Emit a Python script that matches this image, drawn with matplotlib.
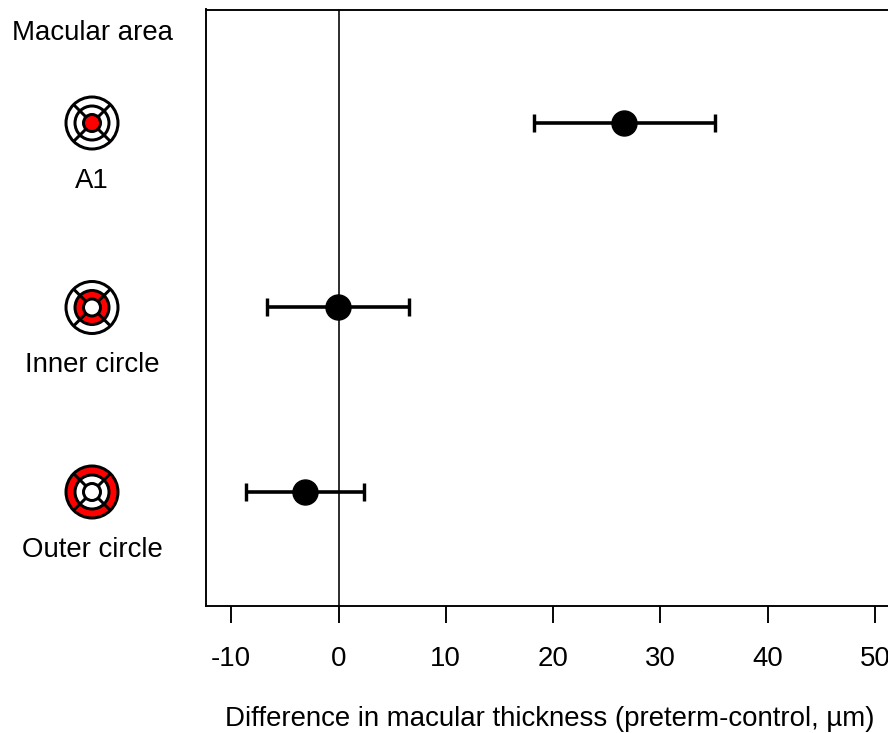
"""Forest plot of macular thickness difference with small macular area icons."""

import matplotlib
matplotlib.use("Agg")
import matplotlib.pyplot as plt
import numpy as np
from matplotlib.patches import Circle, Wedge

plt.rcParams["font.family"] = ["Liberation Sans", "DejaVu Sans"]
plt.rcParams["axes.unicode_minus"] = False

# Data
areas = ["A1", "Inner circle", "Outer circle"]
rows = [3, 2, 1]
means = [26.65, -0.05, -3.15]
lower = [18.2, -6.65, -8.6]
upper = [35.05, 6.6, 2.35]
red_ring = ["centre", "inner", "outer"]
xticks = [-10, 0, 10, 20, 30, 40, 50]

W, H = 888, 733
DPI = 100
PX = 72 / DPI  # points per pixel
FONT = 27.6 * PX

fig = plt.figure(figsize=(W / DPI, H / DPI), dpi=DPI)

# Axes runs past the right edge of the picture, as in the cropped original
left, right, top, bottom = 205.5, 905, 9.5, 606
ax = fig.add_axes([left / W, 1 - bottom / H, (right - left) / W, (bottom - top) / H])
ax.set_xlim((left - 338.5) / 10.73, (right - 338.5) / 10.73)
ax.set_ylim(1 - (bottom - 492) / 184.5, 3 + (123 - top) / 184.5)

ax.axvline(0, color="black", lw=1.6 * PX, zorder=1)

for y, m, lo, hi in zip(rows, means, lower, upper):
    ax.errorbar(m, y, xerr=[[m - lo], [hi - m]], fmt="o", color="black",
                ms=25 * PX, elinewidth=3.6 * PX, capsize=9 * PX,
                capthick=3.4 * PX, zorder=3)

for side in ax.spines.values():
    side.set_linewidth(1.9 * PX)

ax.set_xticks(xticks)
ax.set_yticks([])
ax.tick_params(axis="x", length=17 * PX, width=1.9 * PX, pad=23 * PX,
               labelsize=FONT)
ax.set_xlabel("Difference in macular thickness (preterm-control, µm)",
              fontsize=FONT)
ax.xaxis.set_label_coords((550 - left) / (right - left),
                          1 - (719 - top) / (bottom - top), transform=ax.transAxes)
ax.xaxis.label.set_verticalalignment("center")

# Overlay in pixel coordinates for the icons and row labels
ov = fig.add_axes([0, 0, 1, 1])
ov.set_xlim(0, W)
ov.set_ylim(H, 0)
ov.axis("off")

ICON_X = 92
R1, R2, R3 = 8.5, 17, 26


def draw_icon(cy, part):
    lw = 3.0 * PX
    if part == "outer":
        ov.add_patch(Wedge((ICON_X, cy), R3, 0, 360, width=R3 - R2,
                           fc="red", ec="none"))
    if part == "inner":
        ov.add_patch(Wedge((ICON_X, cy), R2, 0, 360, width=R2 - R1,
                           fc="red", ec="none"))
    if part == "centre":
        ov.add_patch(Circle((ICON_X, cy), R1, fc="red", ec="none"))
    for r in (R1, R2, R3):
        ov.add_patch(Circle((ICON_X, cy), r, fc="none", ec="black", lw=lw))
    for a in np.deg2rad([45, 135, 225, 315]):
        ov.plot([ICON_X + R1 * np.cos(a), ICON_X + R3 * np.cos(a)],
                [cy + R1 * np.sin(a), cy + R3 * np.sin(a)],
                color="black", lw=lw, solid_capstyle="butt")


ov.text(ICON_X, 33.5, "Macular area", ha="center", va="center", fontsize=FONT)
for name, y, part in zip(areas, rows, red_ring):
    cy = H - ax.transData.transform((0, y))[1]
    draw_icon(cy, part)
    ov.text(ICON_X, cy + 58, name, ha="center", va="center", fontsize=FONT)

fig.savefig("out.png", dpi=DPI)
